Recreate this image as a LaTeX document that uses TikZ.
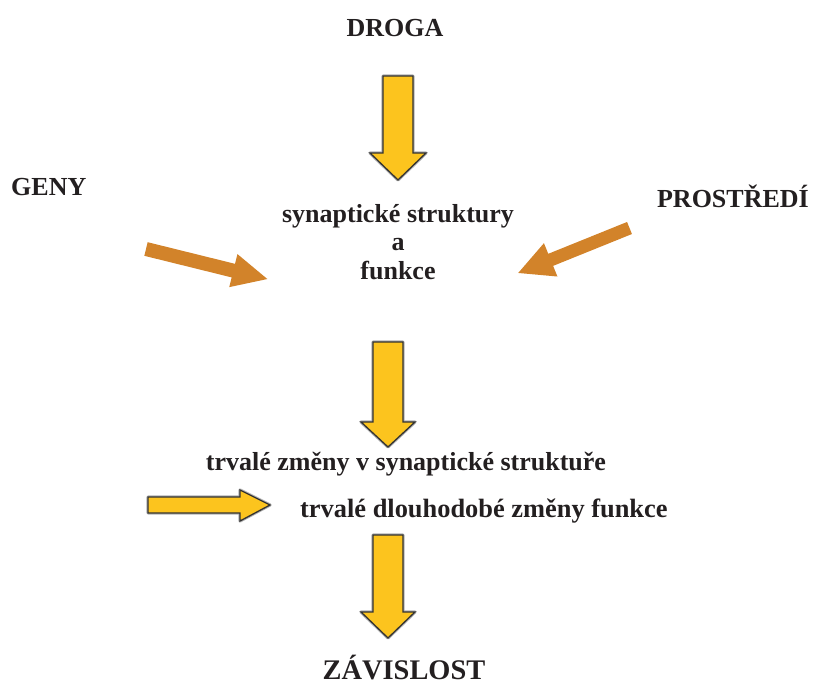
\documentclass[tikz,border=0pt]{standalone}
\usepackage{fontspec}
\setmainfont{Liberation Serif}
\definecolor{txt}{HTML}{231F20}
\definecolor{yel}{HTML}{FCC41E}
\definecolor{yedge}{HTML}{333333}
\definecolor{ora}{HTML}{D2832A}
\begin{document}
\begin{tikzpicture}[x=1pt,y=-1pt,
  lbl/.style={font=\fontsize{26}{28.5}\selectfont\bfseries, text=txt, inner sep=0pt, anchor=base, align=center},
  bigl/.style={lbl, font=\fontsize{28.4}{30}\selectfont\bfseries},
  midl/.style={lbl, font=\fontsize{26.4}{29}\selectfont\bfseries},
  yarrow/.style={fill=yel, draw=yedge, line width=1.3pt, line join=miter},
  yshadow/.style={draw=black!30, line width=3.2pt, line join=round},
  oarrow/.style={fill=ora, draw=none}]
\useasboundingbox (0,0) rectangle (815,686);

% text nodes
\node[lbl] (droga) at (395,36) {DROGA};
\node[lbl, anchor=base west] (geny) at (11,195) {GENY};
\node[lbl, anchor=base east] (prostredi) at (809,207) {PROSTŘEDÍ};
\node[lbl, anchor=north] (syn) at (398,204) {synaptické struktury\\a\\funkce};
\node[lbl] (trvale) at (406,470) {trvalé změny v synaptické struktuře};
\node[midl, anchor=base west] (dlouho) at (300,517) {trvalé dlouhodobé změny funkce};
\node[bigl] (zavis) at (404,679) {ZÁVISLOST};

% yellow block arrows (down)
\foreach \cx/\top/\hb/\tip/\sw/\hw in {398/76/153/180/15/28, 388/342/422/447/15/27, 388/535/612/638/15/27}{
  \draw[yshadow] (\cx-\sw,\top) -- (\cx+\sw,\top) -- (\cx+\sw,\hb) -- (\cx+\hw,\hb) -- (\cx,\tip) -- (\cx-\hw,\hb) -- (\cx-\sw,\hb) -- cycle;
  \draw[yarrow] (\cx-\sw,\top) -- (\cx+\sw,\top) -- (\cx+\sw,\hb) -- (\cx+\hw,\hb) -- (\cx,\tip) -- (\cx-\hw,\hb) -- (\cx-\sw,\hb) -- cycle;
}
% horizontal yellow arrow
\draw[yshadow] (148,497) -- (240,497) -- (240,490) -- (270,505) -- (240,521) -- (240,513) -- (148,513) -- cycle;
\draw[yarrow] (148,497) -- (240,497) -- (240,490) -- (270,505) -- (240,521) -- (240,513) -- (148,513) -- cycle;

% orange arrows
\begin{scope}[shift={(146,249)}, rotate=-13.9]
  \fill[oarrow] (0,-7) -- (90,-7) -- (90,-17) -- (125,0) -- (90,17) -- (90,7) -- (0,7) -- cycle;
\end{scope}
\begin{scope}[shift={(629.5,228)}, rotate=202]
  \fill[oarrow] (0,-6.5) -- (85,-6.5) -- (85,-18) -- (120,0) -- (85,18) -- (85,6.5) -- (0,6.5) -- cycle;
\end{scope}
\end{tikzpicture}
\end{document}
